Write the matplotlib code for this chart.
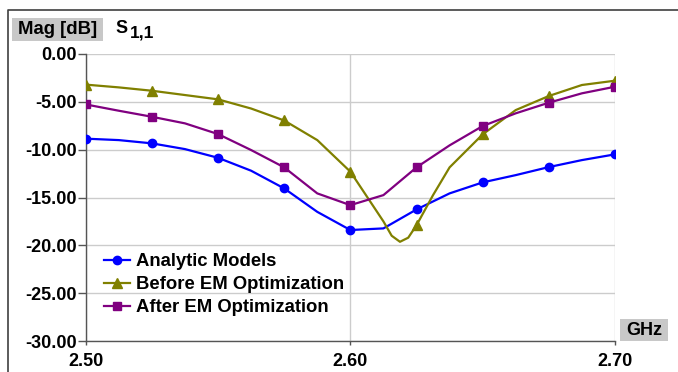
import numpy as np
import matplotlib
matplotlib.use("Agg")
import matplotlib.pyplot as plt
from matplotlib.lines import Line2D
from matplotlib.patches import Rectangle

# ---- data ----
freq = [2.5, 2.5125, 2.525, 2.5375, 2.55, 2.5625, 2.575, 2.5875, 2.6,
        2.6125, 2.625, 2.6375, 2.65, 2.6625, 2.675, 2.6875, 2.7]
analytic = [-8.85, -9.0, -9.34, -9.94, -10.85, -12.2, -14.05, -16.5, -18.4,
            -18.23, -16.25, -14.57, -13.42, -12.66, -11.82, -11.09, -10.49]
after_em = [-5.27, -5.93, -6.56, -7.25, -8.37, -10.04, -11.85, -14.57, -15.8,
            -14.75, -11.85, -9.55, -7.53, -6.2, -5.09, -4.11, -3.42]
freq_before = [2.5, 2.5125, 2.525, 2.5375, 2.55, 2.5625, 2.575, 2.5875, 2.6,
               2.60625, 2.6125, 2.615625, 2.61875, 2.621875, 2.625, 2.63125,
               2.6375, 2.65, 2.6625, 2.675, 2.6875, 2.7]
before_em = [-3.2, -3.49, -3.84, -4.29, -4.74, -5.7, -6.95, -9.0, -12.3,
             -14.9, -17.5, -19.0, -19.63, -19.2, -17.9, -14.75,
             -11.85, -8.4, -5.86, -4.39, -3.24, -2.79]

series_names = ["Analytic Models", "Before EM Optimization", "After EM Optimization"]
y_ticks = [0, -5, -10, -15, -20, -25, -30]
x_ticks = [2.5, 2.6, 2.7]


def marker_idx(f):
    return [i for i, v in enumerate(f) if abs(round(v / 0.025) * 0.025 - v) < 1e-6]


plt.rcParams['font.family'] = ['Liberation Sans', 'DejaVu Sans']
plt.rcParams['font.weight'] = 'bold'

W, H = 678, 372
fig = plt.figure(figsize=(W / 100, H / 100), dpi=100)
ax = fig.add_axes([85.7 / W, 1 - 341 / H, (615 - 85.7) / W, (341 - 54) / H])

ax.plot(freq, analytic, color='#0000ff', lw=1.6, marker='o', ms=6,
        markevery=marker_idx(freq), label=series_names[0], zorder=3)
ax.plot(freq_before, before_em, color='#808000', lw=1.6, marker='^', ms=7,
        markevery=marker_idx(freq_before), label=series_names[1], zorder=3)
ax.plot(freq, after_em, color='#800080', lw=1.6, marker='s', ms=6.3,
        markevery=marker_idx(freq), label=series_names[2], zorder=3)

ax.set_xlim(2.5, 2.7)
ax.set_ylim(-30, 0)
ax.set_yticks(y_ticks)
ax.set_yticklabels([f"{v:.2f}" for v in y_ticks])
ax.set_xticks(x_ticks)
ax.set_xticklabels([f"{v:.2f}" for v in x_ticks])
ax.grid(True, color='#cccccc', lw=1.0)
ax.set_axisbelow(True)
for s in ['top', 'right']:
    ax.spines[s].set_visible(False)
for s in ['left', 'bottom']:
    ax.spines[s].set_color('#555555')
    ax.spines[s].set_linewidth(1.0)
ax.tick_params(axis='y', length=6, width=1, color='#555555', labelsize=13, pad=0.5)
ax.tick_params(axis='x', length=3, width=1, color='#555555', labelsize=13, pad=6)
for lbl in ax.get_xticklabels() + ax.get_yticklabels():
    lbl.set_fontweight('bold')

leg = ax.legend(loc='upper left', bbox_to_anchor=(18 / (615 - 85.7), (341 - 253) / (341 - 54)),
                frameon=False,
                prop={'size': 13.3, 'weight': 'bold'}, handlelength=1.45,
                handletextpad=0.3, labelspacing=0.33, borderaxespad=0, borderpad=0)

# labels with gray boxes
fig.add_artist(Rectangle((12 / W, 1 - 40.5 / H), 90.5 / W, 22.5 / H,
                         transform=fig.transFigure, fc='#c8c8c8', ec='none', zorder=0))
fig.text(57.5 / W, 1 - 30 / H, "Mag [dB]", ha='center', va='center', fontsize=13.3,
         fontweight='bold')
fig.text(115 / W, 1 - 28.5 / H, "S", ha='left', va='center', fontsize=13, fontweight='bold')
fig.text(129.5 / W, 1 - 32.5 / H, "1,1", ha='left', va='center', fontsize=12.5, fontweight='bold')
fig.add_artist(Rectangle((620 / W, 1 - 341 / H), 48 / W, 22 / H,
                         transform=fig.transFigure, fc='#c8c8c8', ec='none', zorder=0))
fig.text(644.5 / W, 1 - 330.5 / H, "GHz", ha='center', va='center', fontsize=13,
         fontweight='bold')

# outer frame (top + left)
fig.add_artist(Line2D([7.5 / W, 7.5 / W, 1.0], [0.0, 1 - 9.5 / H, 1 - 9.5 / H],
                      transform=fig.transFigure, color='#404040', lw=1.2))

fig.savefig("out.png", dpi=100)
